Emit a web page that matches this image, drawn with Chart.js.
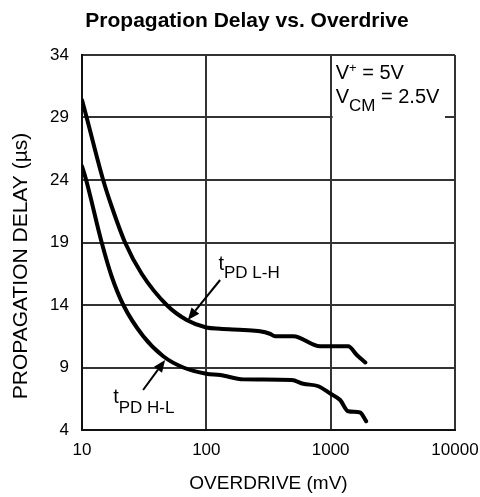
<!DOCTYPE html>
<html>
<head>
<meta charset="utf-8">
<script src="https://cdn.jsdelivr.net/npm/chart.js@4"></script>
<style>
html, body { margin: 0; padding: 0; background: #fff; }
#wrap { width: 480px; height: 497px; }
</style>
</head>
<body>
<div id="wrap"><canvas id="myChart"></canvas></div>
<script>
// overdrive (mV) / delay (us)
var lhX = [10, 10.9, 14.8, 17.3, 22.2, 30.2, 48, 69.5, 100, 129, 200, 270, 324, 357, 500, 822, 1383, 1622, 1900];
var lhY = [30.4, 29.0, 24.0, 21.9, 19.0, 16.5, 14.0, 12.8, 12.2, 12.1, 12.0, 11.9, 11.7, 11.5, 11.5, 10.7, 10.7, 10.0, 9.4];
var hlX = [10, 10.8, 14.4, 17.3, 21.5, 31.1, 45, 65.3, 100, 129, 199, 486, 602, 796, 1000, 1192, 1383, 1722, 1930];
var hlY = [25.1, 24.0, 19.0, 16.3, 14.0, 11.5, 9.9, 9.0, 8.5, 8.4, 8.05, 8.0, 7.7, 7.5, 6.9, 6.4, 5.5, 5.4, 4.7];
var xTicks = [10, 100, 1000, 10000];
var yTicks = [4, 9, 14, 19, 24, 29, 34];

var chartTitle = "Propagation Delay vs. Overdrive";
var xTitle = "OVERDRIVE (mV)";
var yTitle = "PROPAGATION DELAY (\u00b5s)";

var FONT = '"Liberation Sans", Arial, Helvetica, sans-serif';

function toPoints(xs, ys) {
  var pts = [];
  for (var i = 0; i < xs.length; ++i) pts.push({ x: xs[i], y: ys[i] });
  return pts;
}

function arrow(ctx, x1, y1, x2, y2) {
  var ang = Math.atan2(y2 - y1, x2 - x1);
  var len = 12, w = 5;
  var bx = x2 - len * Math.cos(ang), by = y2 - len * Math.sin(ang);
  ctx.beginPath();
  ctx.moveTo(x1, y1);
  ctx.lineTo(bx, by);
  ctx.lineWidth = 2;
  ctx.stroke();
  ctx.beginPath();
  ctx.moveTo(x2, y2);
  ctx.lineTo(bx + w * Math.sin(ang), by - w * Math.cos(ang));
  ctx.lineTo(bx - w * Math.sin(ang), by + w * Math.cos(ang));
  ctx.closePath();
  ctx.fill();
}

// main text + subscript, returns end x
function subText(ctx, x, y, main, sub, mainSize, subSize, drop) {
  ctx.font = mainSize + 'px ' + FONT;
  ctx.fillText(main, x, y);
  x += ctx.measureText(main).width;
  ctx.font = subSize + 'px ' + FONT;
  ctx.fillText(sub, x, y + drop);
  return x + ctx.measureText(sub).width;
}

var notes = {
  id: 'notes',
  afterDraw: function(chart) {
    var ctx = chart.ctx, xs = chart.scales.x, ys = chart.scales.y, a = chart.chartArea;
    ctx.save();
    ctx.fillStyle = '#000';
    ctx.strokeStyle = '#000';
    ctx.textBaseline = 'alphabetic';

    // title
    ctx.font = 'bold 21px ' + FONT;
    ctx.textAlign = 'center';
    ctx.fillText(chartTitle, 247, 27);

    // y axis title
    ctx.save();
    ctx.translate(27, 266);
    ctx.rotate(-Math.PI / 2);
    ctx.font = '21px ' + FONT;
    ctx.fillText(yTitle, 0, 0);
    ctx.restore();
    ctx.textAlign = 'left';

    // conditions box
    var bl = xs.getPixelForValue(1000) + 2;
    ctx.fillStyle = '#fff';
    ctx.fillRect(bl, a.top + 2, a.right - 10 - bl, ys.getPixelForValue(29) + 6 - a.top - 2);
    ctx.fillStyle = '#000';
    var tx = bl + 3;
    ctx.font = '20px ' + FONT;
    ctx.fillText('V', tx, 79);
    var w = ctx.measureText('V').width;
    ctx.font = '13px ' + FONT;
    ctx.fillText('+', tx + w, 72);
    w += ctx.measureText('+').width;
    ctx.font = '20px ' + FONT;
    ctx.fillText(' = 5V', tx + w, 79);
    var e = subText(ctx, tx, 103, 'V', 'CM', 20, 17, 8);
    ctx.font = '20px ' + FONT;
    ctx.fillText(' = 2.5V', e, 103);

    // curve labels
    var p = function(v, u) { return [xs.getPixelForValue(v), ys.getPixelForValue(u)]; };
    var t1 = p(125, 16.8);
    subText(ctx, t1[0], t1[1], 't', 'PD L-H', 20, 17, 8);
    var t2 = p(17.8, 6.16);
    subText(ctx, t2[0], t2[1], 't', 'PD H-L', 20, 17, 10);
    var a1 = p(129, 16.0), b1 = p(71, 12.8);
    arrow(ctx, a1[0], a1[1], b1[0], b1[1]);
    var a2 = p(31, 7.2), b2 = p(46.6, 9.6);
    arrow(ctx, a2[0], a2[1], b2[0], b2[1]);
    ctx.restore();
  }
};

function drawChart() {
  var ctx = document.getElementById("myChart").getContext("2d");
  var lineStyle = {
    borderColor: '#000',
    borderWidth: 4,
    pointRadius: 0,
    fill: false,
    cubicInterpolationMode: 'monotone',
    borderCapStyle: 'round',
    borderJoinStyle: 'round'
  };
  new Chart(ctx, {
    type: 'line',
    data: {
      datasets: [
        Object.assign({ label: 'tPD L-H', data: toPoints(lhX, lhY) }, lineStyle),
        Object.assign({ label: 'tPD H-L', data: toPoints(hlX, hlY) }, lineStyle)
      ]
    },
    options: {
      responsive: true,
      maintainAspectRatio: false,
      animation: false,
      layout: { padding: { top: 55, right: 25, left: 0, bottom: 0 } },
      plugins: {
        legend: { display: false },
        tooltip: { enabled: false },
        title: { display: false }
      },
      scales: {
        x: {
          type: 'logarithmic',
          min: 10,
          max: 10000,
          afterBuildTicks: function(s) { s.ticks = xTicks.map(function(v) { return { value: v }; }); },
          afterFit: function(s) { s.height = 67; s.paddingLeft = 0; s.paddingRight = 0; },
          ticks: {
            color: '#000',
            font: { family: FONT, size: 17 },
            padding: 10,
            maxRotation: 0,
            autoSkip: false,
            callback: function(v) { return String(v); }
          },
          grid: { color: '#333', lineWidth: 2, drawTicks: false },
          border: { color: '#111', width: 2 },
          title: {
            display: true,
            text: xTitle,
            color: '#000',
            font: { family: FONT, size: 19 },
            padding: { top: 0, bottom: 2 }
          }
        },
        y: {
          type: 'linear',
          min: 4,
          max: 34,
          afterBuildTicks: function(s) { s.ticks = yTicks.map(function(v) { return { value: v }; }); },
          afterFit: function(s) { s.width = 82; s.paddingTop = 0; s.paddingBottom = 0; },
          ticks: {
            color: '#000',
            font: { family: FONT, size: 17 },
            padding: 13
          },
          grid: { color: '#333', lineWidth: 2, drawTicks: false },
          border: { color: '#111', width: 2 }
        }
      }
    },
    plugins: [notes]
  });
}

drawChart();
</script>
</body>
</html>
